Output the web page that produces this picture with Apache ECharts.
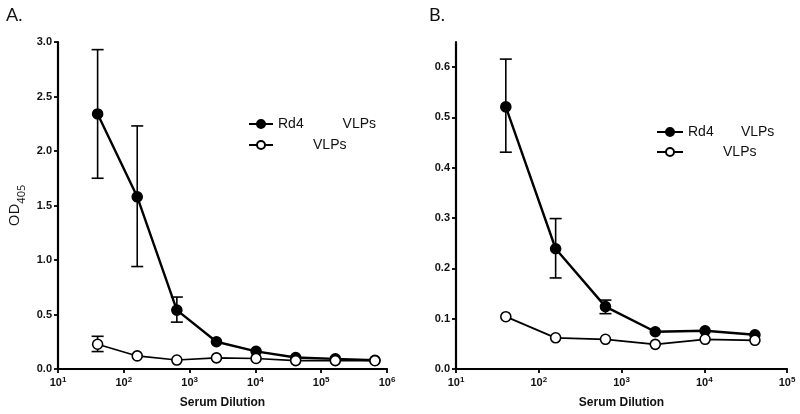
<!DOCTYPE html>
<html>
<head>
<meta charset="utf-8">
<script src="https://cdn.jsdelivr.net/npm/echarts@6/dist/echarts.min.js"></script>
<style>html,body{margin:0;padding:0;background:#fff}#c{width:800px;height:414px}</style>
</head>
<body>
<div id="c"></div>
<script>
// Panel A data
const dilutionA = [40, 160, 640, 2560, 10240, 40960, 163840, 655360];
const rd4A = [2.34, 1.58, 0.54, 0.25, 0.162, 0.105, 0.093, 0.08];
const rd4A_low = [1.75, 0.94, 0.43, null, null, null, null, null];
const rd4A_high = [2.93, 2.23, 0.66, null, null, null, null, null];
const ctrlA = [0.227, 0.12, 0.082, 0.102, 0.097, 0.077, 0.077, 0.076];
const ctrlA_low = [0.16, null, null, null, null, null, null, null];
const ctrlA_high = [0.30, null, null, null, null, null, null, null];

// Panel B data
const dilutionB = [40, 160, 640, 2560, 10240, 40960];
const rd4B = [0.521, 0.239, 0.124, 0.074, 0.076, 0.068];
const rd4B_low = [0.431, 0.181, 0.11, null, null, null];
const rd4B_high = [0.616, 0.299, 0.137, null, null, null];
const ctrlB = [0.104, 0.062, 0.059, 0.049, 0.059, 0.057];

const yTicksA = [0, 0.5, 1.0, 1.5, 2.0, 2.5, 3.0];
const yTicksB = [0, 0.1, 0.2, 0.3, 0.4, 0.5, 0.6];

const nameRd4A = 'Rd4          VLPs';
const nameCtrlA = '         VLPs';
const nameRd4B = 'Rd4       VLPs';
const nameCtrlB = '         VLPs ';

const FONT = '"Liberation Sans", Arial, sans-serif';

function pairs(xs, ys) { return xs.map((x, i) => [x, ys[i]]); }
function errData(xs, lo, hi) {
  const out = [];
  xs.forEach((x, i) => { if (lo[i] != null) out.push([x, lo[i], hi[i]]); });
  return out;
}
function errSeries(xi, yi, data) {
  return {
    type: 'custom', xAxisIndex: xi, yAxisIndex: yi, data: data, z: 1, silent: true,
    renderItem: function (params, api) {
      const x = api.value(0);
      const lo = api.coord([x, api.value(1)]);
      const hi = api.coord([x, api.value(2)]);
      const w = 6;
      const st = { stroke: '#000', lineWidth: 1.6 };
      return { type: 'group', children: [
        { type: 'line', shape: { x1: lo[0], y1: lo[1], x2: hi[0], y2: hi[1] }, style: st },
        { type: 'line', shape: { x1: lo[0] - w, y1: lo[1], x2: lo[0] + w, y2: lo[1] }, style: st },
        { type: 'line', shape: { x1: hi[0] - w, y1: hi[1], x2: hi[0] + w, y2: hi[1] }, style: st }
      ]};
    }
  };
}
const xLabel = {
  fontFamily: FONT, fontWeight: 'bold', fontSize: 11, color: '#111', margin: 7,
  formatter: function (v) { return '{b|10}{s|' + Math.round(Math.log10(v)) + '}'; },
  rich: {
    b: { fontFamily: FONT, fontWeight: 'bold', fontSize: 11, color: '#111' },
    s: { fontFamily: FONT, fontWeight: 'bold', fontSize: 8, color: '#111', verticalAlign: 'top', padding: [0, 0, 5, 0] }
  }
};
function xAxis(gi, maxV) {
  return {
    type: 'log', logBase: 10, gridIndex: gi, min: 10, max: maxV,
    name: 'Serum Dilution', nameLocation: 'middle', nameGap: 28,
    nameTextStyle: { fontFamily: FONT, fontWeight: 'bold', fontSize: 12, color: '#111' },
    axisLine: { lineStyle: { color: '#000', width: 2.2 } },
    axisTick: { show: true, length: 4, lineStyle: { color: '#000', width: 1.8 } },
    minorTick: { show: false }, splitLine: { show: false },
    axisLabel: xLabel
  };
}
function yAxis(gi, maxV, ticks) {
  return {
    type: 'value', gridIndex: gi, min: 0, max: maxV,
    axisLine: { show: true, lineStyle: { color: '#000', width: 2.2 } },
    axisTick: { show: true, length: 4, customValues: ticks, lineStyle: { color: '#000', width: 1.8 } },
    splitLine: { show: false },
    axisLabel: { customValues: ticks, fontFamily: FONT, fontWeight: 'bold', fontSize: 11, color: '#111', margin: 6,
      formatter: function (v) { return v.toFixed(1); } }
  };
}
function lineSeries(name, xi, yi, data, filled, lw) {
  return {
    type: 'line', name: name, xAxisIndex: xi, yAxisIndex: yi, data: data,
    symbol: 'circle', symbolSize: 10, z: filled ? 2 : 3,
    lineStyle: { color: '#000', width: lw },
    itemStyle: { color: filled ? '#000' : '#fff', borderColor: '#000', borderWidth: 1.6 },
    emphasis: { disabled: true }
  };
}

const chart = echarts.init(document.getElementById('c'), null, { renderer: 'canvas' });
const yA = yAxis(0, 3.0, yTicksA);
yA.name = '{a|OD}{b|405}';
yA.nameLocation = 'middle';
yA.nameGap = 31;
yA.nameTextStyle = { rich: {
  a: { fontFamily: '"Open Sans", sans-serif', fontSize: 15, color: '#111' },
  b: { fontFamily: '"Open Sans", sans-serif', fontSize: 11, color: '#111', verticalAlign: 'bottom', padding: [14, 0, 0, 0] }
}};
const titleStyle = { fontFamily: 'Lato, sans-serif', fontWeight: 'normal', fontSize: 18, color: '#111' };
chart.setOption({
  animation: false,
  backgroundColor: '#fff',
  title: [
    { text: 'A.', left: 6, top: 6, padding: 0, textStyle: titleStyle },
    { text: 'B.', left: 429, top: 6, padding: 0, textStyle: titleStyle }
  ],
  grid: [
    { left: 58, top: 42, width: 329, height: 330 },
    { left: 456, top: 42, width: 331, height: 330 }
  ],
  legend: [
    { data: [nameRd4A, nameCtrlA], orient: 'vertical', left: 248, top: 117, padding: 0, itemWidth: 24, itemHeight: 10, itemGap: 7,
      textStyle: { fontFamily: FONT, fontSize: 14, color: '#111' }, selectedMode: false },
    { data: [nameRd4B, nameCtrlB], orient: 'vertical', left: 656, top: 125, padding: 0, itemWidth: 26, itemHeight: 10, itemGap: 6,
      textStyle: { fontFamily: FONT, fontSize: 14, color: '#111' }, selectedMode: false }
  ],
  xAxis: [xAxis(0, 1e6), xAxis(1, 1e5)],
  yAxis: [yA, yAxis(1, 0.65, yTicksB)],
  series: [
    errSeries(0, 0, errData(dilutionA, rd4A_low, rd4A_high)),
    errSeries(0, 0, errData(dilutionA, ctrlA_low, ctrlA_high)),
    lineSeries(nameRd4A, 0, 0, pairs(dilutionA, rd4A), true, 2.4),
    lineSeries(nameCtrlA, 0, 0, pairs(dilutionA, ctrlA), false, 1.6),
    errSeries(1, 1, errData(dilutionB, rd4B_low, rd4B_high)),
    lineSeries(nameRd4B, 1, 1, pairs(dilutionB, rd4B), true, 2.4),
    lineSeries(nameCtrlB, 1, 1, pairs(dilutionB, ctrlB), false, 1.8)
  ]
});
</script>
</body>
</html>
